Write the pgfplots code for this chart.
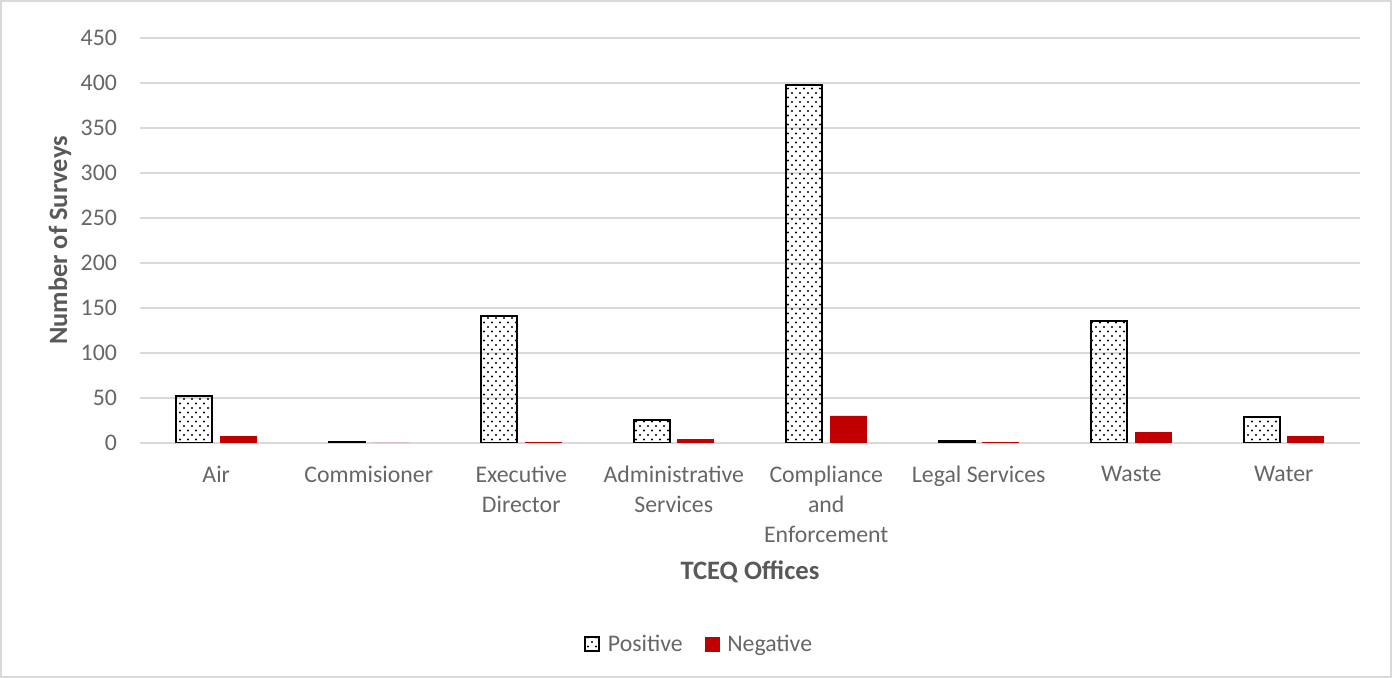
\documentclass[border=0pt]{standalone}
\usepackage{pgfplots}
\pgfplotsset{compat=1.18}
\usetikzlibrary{patterns}
\usepackage{fontspec}
\setmainfont{Carlito}
\definecolor{txt}{HTML}{595959}
\definecolor{tck}{HTML}{666666}
\definecolor{grd}{HTML}{D9D9D9}
\definecolor{neg}{HTML}{C00000}
\pgfdeclarepatternformonly{sparsedots}{\pgfqpoint{-1pt}{-1pt}}{\pgfqpoint{5pt}{5.5pt}}{\pgfqpoint{4pt}{4.5pt}}{%
  \pgfpathcircle{\pgfqpoint{0pt}{0pt}}{0.55pt}%
  \pgfpathcircle{\pgfqpoint{2pt}{2.25pt}}{0.55pt}%
  \pgfusepath{fill}}
\begin{document}
\begin{tikzpicture}
\draw[grd, line width=0.8pt] (-69.6pt,-117.1pt) rectangle (625.6pt,221.1pt);
\useasboundingbox (-70pt,-117.5pt) rectangle (626pt,221.5pt);
\begin{axis}[
  at={(0,0)}, anchor=south west,
  scale only axis, width=610pt, height=202.5pt,
  ybar=4pt, bar width=18pt,
  xmin=-0.5, xmax=7.5, ymin=0, ymax=450,
  xtick=data,
  xticklabels={Air,Commisioner,Executive\\Director,Administrative\\Services,Compliance\\and\\Enforcement,Legal Services,Waste,Water},
  ytick={0,50,...,450},
  ymajorgrids, grid style={grd, line width=0.6pt},
  axis x line*=bottom, axis y line*=left,
  x axis line style={grd, line width=0.8pt, -},
  y axis line style={draw=none},
  major tick length=0pt,
  tick label style={tck, font=\fontsize{11.9}{15}\selectfont},
  xticklabel style={align=center, anchor=north, yshift=-8pt},
  yticklabel style={anchor=east, xshift=-8pt},
  /pgf/number format/assume math mode=true,
  xlabel={TCEQ Offices},
  ylabel={Number of Surveys},
  label style={txt},
  xlabel style={font=\bfseries\fontsize{13.3}{15}\selectfont, at={(axis description cs:0.5,0)}, anchor=center, yshift=-64.5pt},
  ylabel style={font=\bfseries\fontsize{13.2}{15}\selectfont, at={(axis description cs:-0.0656,0.5)}, anchor=center},
  legend style={at={(axis description cs:0.459,-0.499)}, anchor=center, draw=none, fill=none,
    legend columns=2, font=\fontsize{11.9}{15}\selectfont, text=tck,
    /tikz/column 1/.style={column sep=2pt},
    /tikz/column 2/.style={column sep=9pt},
    /tikz/column 3/.style={column sep=2pt}},
  legend image code/.code={\draw[#1] (0pt,-3pt) rectangle (7pt,4pt);},
]
\addplot[draw=black, line width=1pt, pattern=sparsedots, pattern color=black] coordinates {
(0,52) (1,1) (2,141) (3,26) (4,398) (5,2) (6,136) (7,29)};
\addplot[draw=neg, fill=neg, line width=0.3pt] coordinates {
(0,7) (1,0) (2,1) (3,4) (4,30) (5,1) (6,12) (7,7)};
\legend{Positive,Negative}
\end{axis}
\end{tikzpicture}
\end{document}
